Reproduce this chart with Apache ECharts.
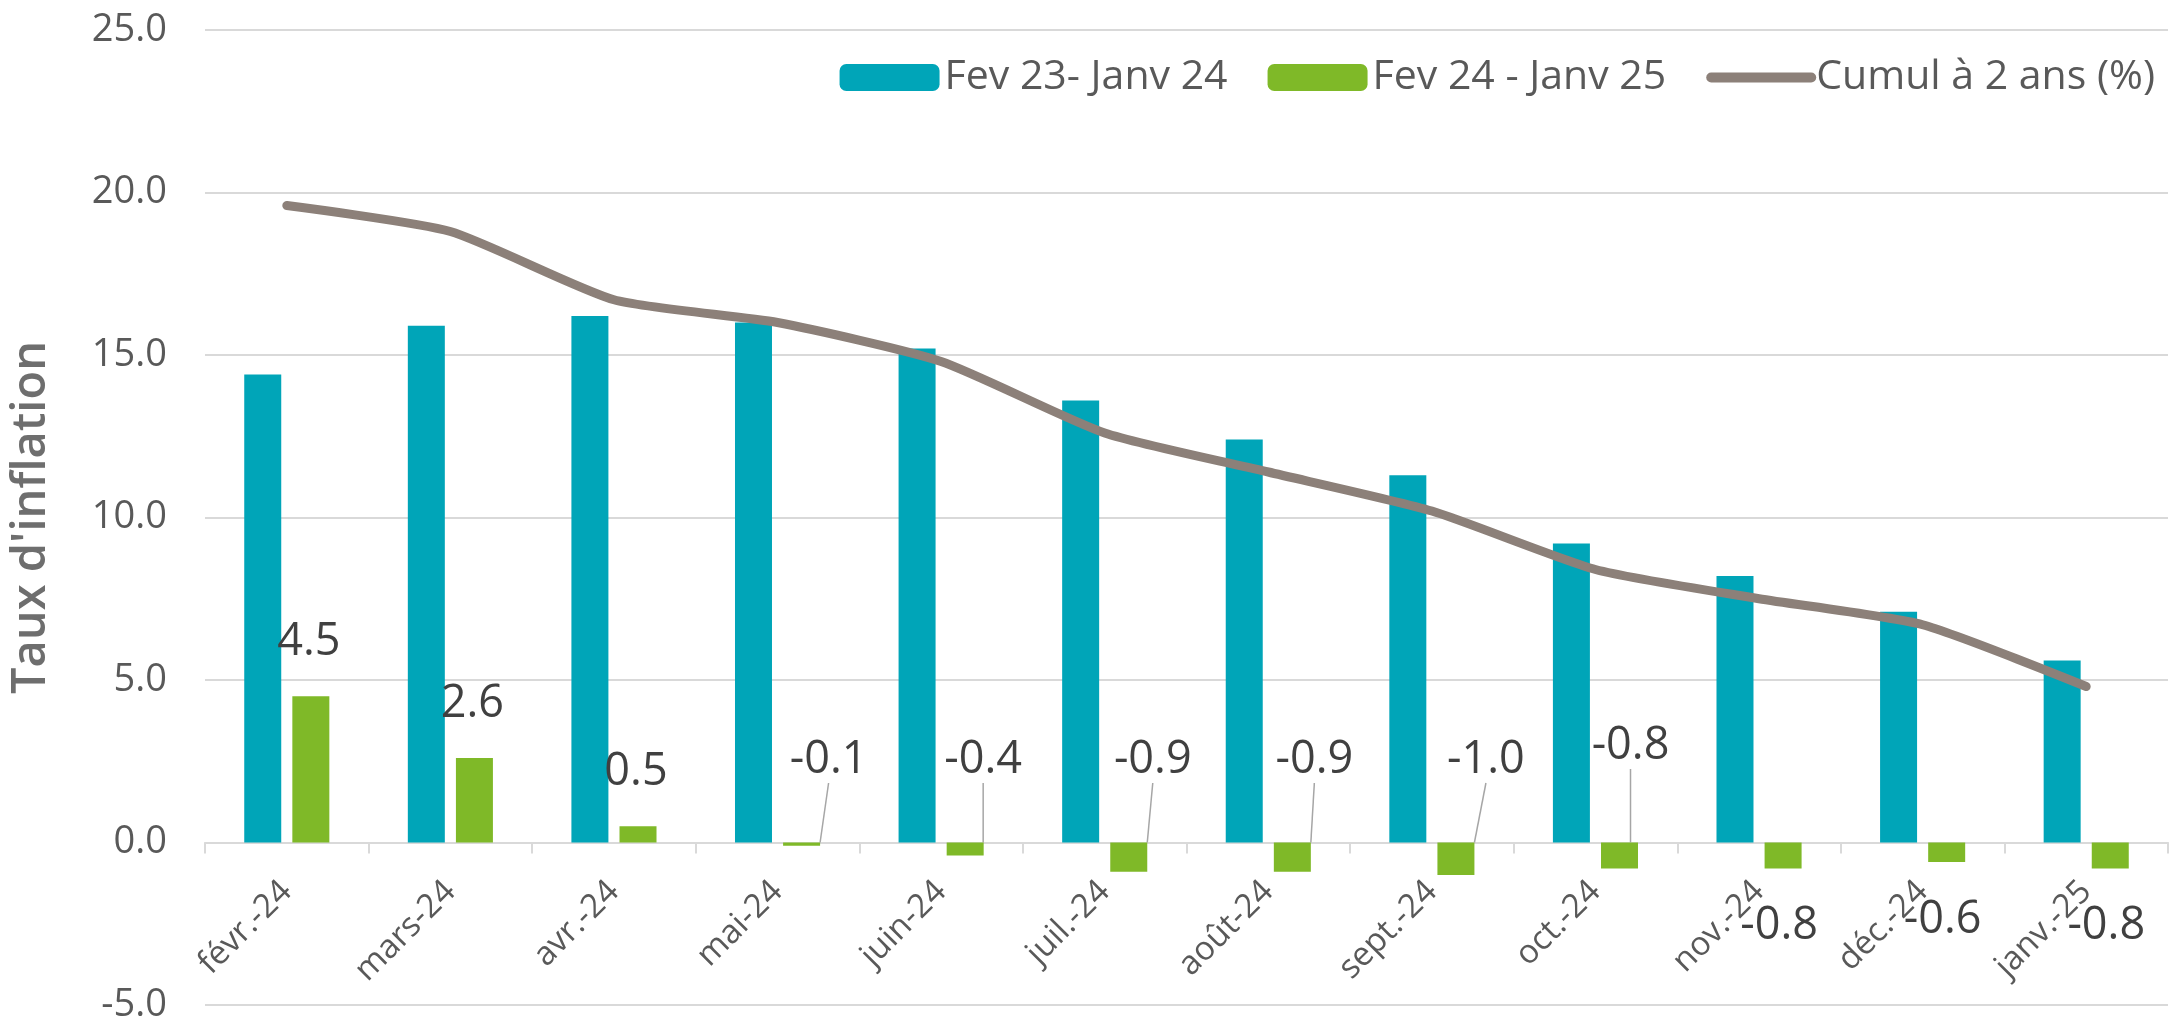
<!DOCTYPE html>
<html lang="fr">
<head>
    <meta charset="UTF-8">
    <title>Taux d'inflation</title>
    <script src="https://cdn.jsdelivr.net/npm/echarts@6/dist/echarts.min.js"></script>
    <style>
        html, body { margin: 0; padding: 0; background: #fff; }
        #chart { width: 2174px; height: 1022px; }
    </style>
</head>
<body>
<div id="chart"></div>
<script>
    // valeurs
    var categories = ['févr.-24', 'mars-24', 'avr.-24', 'mai-24', 'juin-24', 'juil.-24',
        'août-24', 'sept.-24', 'oct.-24', 'nov.-24', 'déc.-24', 'janv.-25'];
    var fev23Janv24 = [14.4, 15.9, 16.2, 16.0, 15.2, 13.6, 12.4, 11.3, 9.2, 8.2, 7.1, 5.6];
    var fev24Janv25 = [4.5, 2.6, 0.5, -0.1, -0.4, -0.9, -0.9, -1.0, -0.8, -0.8, -0.6, -0.8];
    var cumul2ans = [19.6, 18.8, 16.7, 16.0, 14.8, 12.6, 11.4, 10.2, 8.4, 7.5, 6.7, 4.8];
    var seriesNames = ['Fev 23- Janv 24', 'Fev 24 - Janv 25', 'Cumul à 2 ans (%)'];

    var font = "'Open Sans', 'Liberation Sans', sans-serif";
    var grey = '#595959';
    var lineColor = '#8C8079';

    // etiquettes avec ligne de rappel (mai -> oct)
    function hasLeader(i) { return fev24Janv25[i] < 0 && i < 9; }

    var greenData = fev24Janv25.map(function (v, i) {
        var lead = hasLeader(i);
        return {
            value: v,
            label: { padding: lead ? [0, 0, 18, 0] : 0 },
            labelLine: { show: lead }
        };
    });

    var chart = echarts.init(document.getElementById('chart'));

    var option = {
        animation: false,
        grid: {
            left: 205, right: 6, top: 30, bottom: 17,
            containLabel: false,
            outerBoundsMode: 'none'
        },
        legend: {
            top: 52,
            right: 14,
            itemWidth: 100,
            itemHeight: 27,
            itemGap: 40,
            textStyle: { fontFamily: font, fontSize: 41, color: grey },
            data: [
                seriesNames[0],
                seriesNames[1],
                {
                    name: seriesNames[2],
                    itemStyle: { color: 'rgba(0,0,0,0)', borderColor: 'rgba(0,0,0,0)', borderWidth: 0 },
                    lineStyle: { color: lineColor, width: 10, cap: 'round' }
                }
            ]
        },
        xAxis: {
            type: 'category',
            data: categories,
            offset: 0,
            axisLine: { onZero: false, lineStyle: { color: '#D9D9D9', width: 2 } },
            axisTick: { show: true, length: 11, lineStyle: { color: '#D9D9D9', width: 2 } },
            axisLabel: {
                show: true,
                interval: 0,
                rotate: 45,
                margin: 44,
                fontFamily: font,
                fontSize: 33,
                color: grey
            }
        },
        yAxis: {
            type: 'value',
            min: -5,
            max: 25,
            interval: 5,
            name: "Taux d'inflation",
            nameLocation: 'middle',
            nameGap: 150,
            nameTextStyle: { fontFamily: font, fontSize: 47, fontWeight: 600, color: '#6E6E6E' },
            axisLine: { show: false },
            axisTick: { show: false },
            splitLine: { lineStyle: { color: '#D9D9D9', width: 2 } },
            axisLabel: {
                margin: 38,
                fontFamily: font,
                fontSize: 38,
                color: grey,
                formatter: function (v) { return v.toFixed(1); }
            }
        },
        series: [
            {
                name: seriesNames[0],
                type: 'bar',
                data: fev23Janv24,
                barWidth: 37,
                barGap: '30%',
                itemStyle: { color: '#00A5B8' }
            },
            {
                name: seriesNames[1],
                type: 'bar',
                data: greenData,
                barWidth: 37,
                itemStyle: { color: '#7FB928' },
                label: {
                    show: true,
                    position: 'top',
                    fontFamily: font,
                    fontSize: 45,
                    color: '#404040',
                    formatter: function (p) { return p.value.toFixed(1); }
                },
                labelLine: { show: true, lineStyle: { color: '#A6A6A6', width: 1.5 } },
                labelLayout: function (p) {
                    var i = p.dataIndex, r = p.rect, cx = r.x + r.width / 2;
                    if (fev24Janv25[i] >= 0) {
                        return { x: cx - 2, y: r.y - 54, align: 'center', verticalAlign: 'middle' };
                    }
                    if (!hasLeader(i)) {
                        return { x: cx - 4, y: r.y + r.height + 58, align: 'center', verticalAlign: 'middle' };
                    }
                    var shift = { 3: 27, 4: 18, 5: 24, 6: 22, 7: 30, 8: 11 };
                    var lift = i === 8 ? 105 : 91;
                    return { x: cx + shift[i], y: r.y - lift + 9, align: 'center', verticalAlign: 'middle' };
                }
            },
            {
                name: seriesNames[2],
                type: 'line',
                data: cumul2ans,
                smooth: 0.2,
                symbol: 'none',
                z: 5,
                lineStyle: { color: lineColor, width: 9, cap: 'round' },
                itemStyle: { color: lineColor }
            }
        ]
    };

    chart.setOption(option);

    // l'axe des mois est remonte sur la ligne du zero
    var zeroY = chart.convertToPixel({ yAxisIndex: 0 }, 0);
    var bottomY = chart.convertToPixel({ yAxisIndex: 0 }, -5);
    chart.setOption({ xAxis: { offset: zeroY - bottomY } });
</script>
</body>
</html>
